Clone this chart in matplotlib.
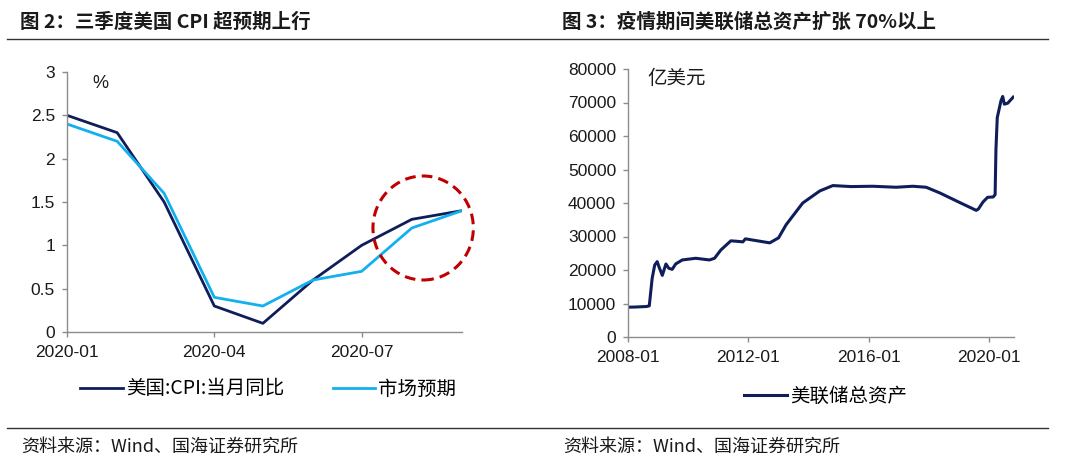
import numpy as np
import pandas as pd
import matplotlib
matplotlib.use('Agg')
import matplotlib.pyplot as plt
import matplotlib.dates as mdates
from matplotlib.patches import Ellipse
from matplotlib.lines import Line2D

plt.rcParams['font.family'] = ['Liberation Sans', 'Noto Sans CJK SC', 'DejaVu Sans']

# Figure 2 data: US CPI y/y vs market expectation (%)
cpi_months = ['2020-01', '2020-02', '2020-03', '2020-04', '2020-05',
              '2020-06', '2020-07', '2020-08', '2020-09']
cpi_actual = [2.5, 2.3, 1.5, 0.3, 0.1, 0.6, 1.0, 1.3, 1.4]
cpi_expected = [2.4, 2.2, 1.6, 0.4, 0.3, 0.6, 0.7, 1.2, 1.4]

# Figure 3 data: Fed total assets (100 million USD)
fed_dates = ['2008-01-02', '2008-04-01', '2008-08-10', '2008-09-15', '2008-10-20',
             '2008-11-20', '2008-12-20', '2009-01-10', '2009-02-20', '2009-04-05',
             '2009-05-10', '2009-06-20', '2009-08-01', '2009-10-20', '2010-04-01',
             '2010-09-15', '2010-11-15', '2011-02-01', '2011-06-01', '2011-08-01',
             '2011-10-25', '2011-11-25', '2012-05-15', '2012-09-15', '2012-12-31',
             '2013-04-01', '2013-10-20', '2014-05-15', '2014-10-20', '2015-06-01',
             '2016-02-15', '2016-11-25', '2017-06-15', '2017-11-25', '2018-05-10',
             '2019-01-01', '2019-07-25', '2019-08-20', '2019-10-15', '2019-12-10',
             '2020-02-15', '2020-03-10', '2020-03-20', '2020-04-05', '2020-05-20',
             '2020-06-10', '2020-06-30', '2020-08-10', '2020-10-15']
fed_assets = [8900, 8950, 9100, 9300, 17500,
              21500, 22500, 21000, 18400, 21800,
              20500, 20200, 21800, 23000, 23500,
              23000, 23500, 26000, 28700, 28600,
              28400, 29300, 28600, 28100, 29600,
              33500, 40000, 43600, 45200, 44900,
              45000, 44700, 45000, 44700, 43000,
              40200, 37800, 38200, 40300, 41700,
              41800, 42500, 56000, 65500, 70500,
              71800, 69500, 69800, 71600]

navy = '#0F1E5A'
light_blue = '#12B0EE'
spine_gray = '#8C8C8C'
text_col = '#1A1A1A'
cjk = ['Noto Sans CJK SC', 'DejaVu Sans']

fig = plt.figure(figsize=(10.8, 4.66), dpi=100)

# titles, separator lines and source notes
fig.text(20 / 1080, 1 - 22 / 466, '图 2：三季度美国 CPI 超预期上行', fontsize=14,
         fontweight='bold', family=cjk, va='center', ha='left', color=text_col)
fig.text(562 / 1080, 1 - 22 / 466, '图 3：疫情期间美联储总资产扩张 70%以上', fontsize=14,
         fontweight='bold', family=cjk, va='center', ha='left', color=text_col)
fig.add_artist(Line2D([7 / 1080, 1048 / 1080], [1 - 39 / 466, 1 - 39 / 466],
                      color='#333333', lw=1.0))
fig.add_artist(Line2D([7 / 1080, 1048 / 1080], [1 - 428 / 466, 1 - 428 / 466],
                      color='#333333', lw=1.0))
fig.text(21 / 1080, 1 - 447 / 466, '资料来源：Wind、国海证券研究所', fontsize=13,
         family=cjk, va='center', ha='left', color=text_col)
fig.text(563 / 1080, 1 - 447 / 466, '资料来源：Wind、国海证券研究所', fontsize=13,
         family=cjk, va='center', ha='left', color=text_col)


def style_axes(ax):
    for side in ['top', 'right']:
        ax.spines[side].set_visible(False)
    for side in ['left', 'bottom']:
        ax.spines[side].set_color(spine_gray)
        ax.spines[side].set_linewidth(1.0)
    ax.tick_params(axis='both', direction='out', length=3.6, width=1.0,
                   colors=spine_gray, labelcolor=text_col, labelsize=12.5)
    ax.tick_params(axis='x', pad=6)
    ax.tick_params(axis='y', pad=5)


# left chart
ax1 = fig.add_axes([67 / 1080, 1 - 332 / 466, 395 / 1080, 260 / 466])
style_axes(ax1)
mx = pd.to_datetime(cpi_months)
ax1.plot(mx, cpi_actual, color=navy, lw=2.0, label='美国:CPI:当月同比')
ax1.plot(mx, cpi_expected, color=light_blue, lw=2.0, label='市场预期')
ax1.set_xlim(mx[0], mx[-1])
ax1.set_ylim(0, 3)
ax1.set_yticks([0, 0.5, 1, 1.5, 2, 2.5, 3])
ax1.set_yticklabels(['0', '0.5', '1', '1.5', '2', '2.5', '3'])
ax1.set_xticks(pd.to_datetime(['2020-01', '2020-04', '2020-07']))
ax1.xaxis.set_major_formatter(mdates.DateFormatter('%Y-%m'))
ax1.text(0.063, 0.954, '%', transform=ax1.transAxes, fontsize=13, va='center',
         ha='left', color=text_col)
circ_x = mdates.date2num(pd.Timestamp('2020-08-08'))
ax1.add_patch(Ellipse((circ_x, 1.2), 62, 1.2, fill=False, ec='#C00000',
                      lw=2.2, ls=(0, (3.5, 2)), clip_on=False, zorder=5))
ax1.legend(loc='center left', bbox_to_anchor=(80 / 1080, 1 - 389 / 466),
           bbox_transform=fig.transFigure, ncol=2, frameon=False,
           prop={'family': cjk, 'size': 14}, borderpad=0, borderaxespad=0,
           handlelength=2.2, handletextpad=0.15, columnspacing=2.5)

# right chart
ax2 = fig.add_axes([628 / 1080, 1 - 337 / 466, 386 / 1080, 268 / 466])
style_axes(ax2)
fx = pd.to_datetime(fed_dates)
ax2.plot(fx, fed_assets, color=navy, lw=2.2, label='美联储总资产')
ax2.set_xlim(pd.Timestamp('2008-01-01'), pd.Timestamp('2020-10-25'))
ax2.set_ylim(0, 80000)
ax2.set_yticks(np.arange(0, 80001, 10000))
ax2.set_xticks(pd.to_datetime(['2008-01', '2012-01', '2016-01', '2020-01']))
ax2.xaxis.set_major_formatter(mdates.DateFormatter('%Y-%m'))
ax2.text(0.049, 0.965, '亿美元', transform=ax2.transAxes, fontsize=14,
         family=cjk, va='center', ha='left', color=text_col)
ax2.legend(loc='center left', bbox_to_anchor=(744 / 1080, 1 - 396 / 466),
           bbox_transform=fig.transFigure, frameon=False,
           prop={'family': cjk, 'size': 14}, borderpad=0, borderaxespad=0,
           handlelength=2.2, handletextpad=0.15)

fig.savefig('out.png', dpi=100)
